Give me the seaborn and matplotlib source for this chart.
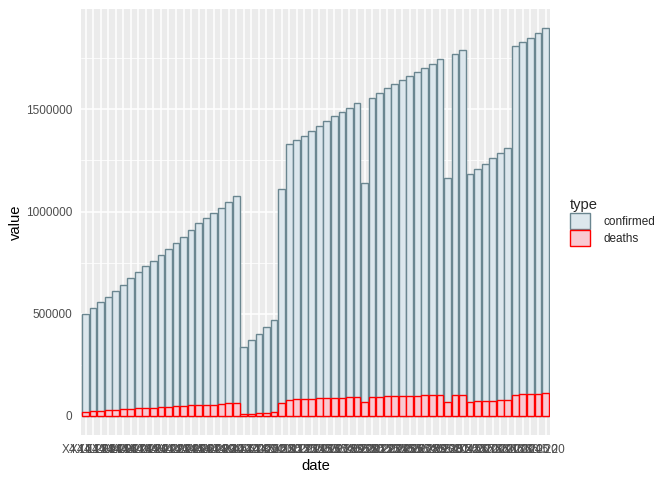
import matplotlib
matplotlib.use("Agg")
import matplotlib.pyplot as plt
from matplotlib.patches import Patch
import seaborn as sns
import pandas as pd

# dates as column names, sorted alphabetically like an R factor
dates = (["X4.10.20", "X4.11.20", "X4.12.20", "X4.13.20", "X4.14.20", "X4.15.20", "X4.16.20",
          "X4.17.20", "X4.18.20", "X4.19.20", "X4.20.20", "X4.21.20", "X4.22.20", "X4.23.20",
          "X4.24.20", "X4.25.20", "X4.26.20", "X4.27.20", "X4.28.20", "X4.29.20", "X4.30.20",
          "X4.5.20", "X4.6.20", "X4.7.20", "X4.8.20", "X4.9.20",
          "X5.1.20", "X5.10.20", "X5.11.20", "X5.12.20", "X5.13.20", "X5.14.20", "X5.15.20",
          "X5.16.20", "X5.17.20", "X5.18.20", "X5.19.20", "X5.2.20", "X5.20.20", "X5.21.20",
          "X5.22.20", "X5.23.20", "X5.24.20", "X5.25.20", "X5.26.20", "X5.27.20", "X5.28.20",
          "X5.29.20", "X5.3.20", "X5.30.20", "X5.31.20", "X5.4.20", "X5.5.20", "X5.6.20",
          "X5.7.20", "X5.8.20", "X5.9.20",
          "X6.1.20", "X6.2.20", "X6.3.20", "X6.4.20", "X6.5.20"])

confirmed = [500000, 529000, 558000, 584000, 612000, 641000, 675000, 704000, 734000, 758000,
             787000, 816000, 846000, 875000, 909000, 943000, 967000, 992000, 1016000, 1045000,
             1075000,
             339000, 373000, 403000, 437000, 471000,
             1109000, 1333000, 1352000, 1372000, 1396000, 1420000, 1445000, 1469000, 1489000,
             1508000, 1532000, 1138000, 1557000, 1581000, 1605000, 1625000, 1644000, 1664000,
             1683000, 1703000, 1722000, 1747000, 1162000, 1771000, 1791000, 1182000, 1206000,
             1235000, 1260000, 1289000, 1313000,
             1810000, 1830000, 1849000, 1873000, 1898000]

deaths = [21000, 23000, 25000, 27000, 30000, 33000, 35000, 37000, 39000, 41000,
          43000, 45000, 48000, 50000, 52000, 54000, 55000, 56000, 58000, 61000, 63000,
          10000, 11000, 13000, 15000, 17000,
          65000, 80000, 81000, 83000, 84000, 86000, 87000, 89000, 90000, 91000, 93000,
          67000, 94000, 95000, 96000, 98000, 98000, 99000, 100000, 101000, 102000, 103000,
          68000, 104000, 105000, 69000, 71000, 74000, 75000, 77000, 79000,
          105000, 107000, 108000, 109000, 110000]

types = ["confirmed", "deaths"]
fills = {"confirmed": "#DCE7ED", "deaths": "#F9C9D2"}
edges = {"confirmed": "#6A8690", "deaths": "#FF0000"}

df = pd.DataFrame({"date": dates * 2,
                   "value": confirmed + deaths,
                   "type": ["confirmed"] * len(dates) + ["deaths"] * len(dates)})

sns.set_theme(style="darkgrid")
plt.rcParams["font.family"] = ["Liberation Sans", "DejaVu Sans"]

fig = plt.figure(figsize=(6.72, 4.8), dpi=100)
ax = fig.add_axes([0.1205, 0.093, 0.698, 0.889])
ax.set_facecolor("#EBEBEB")

for t in types:
    sub = df[df["type"] == t]
    sns.barplot(data=sub, x="date", y="value", order=dates, color=fills[t],
                edgecolor=edges[t], linewidth=1.0, width=0.9, saturation=1,
                errorbar=None, ax=ax)

ymax = max(confirmed)
ax.set_ylim(-0.05 * ymax, 1.05 * ymax)
ax.set_xlim(-0.6, len(dates) - 0.4)

ax.set_yticks([0, 500000, 1000000, 1500000])
ax.set_yticklabels(["0", "500000", "1000000", "1500000"])
ax.set_yticks([250000, 750000, 1250000, 1750000], minor=True)
ax.grid(True, which="major", color="white", linewidth=1.1)
ax.grid(True, which="minor", axis="y", color="white", linewidth=0.55)
ax.set_axisbelow(True)
for s in ax.spines.values():
    s.set_visible(False)

ax.tick_params(axis="both", which="major", length=3.7, width=0.8, color="#333333",
               labelsize=8.5, labelcolor="#4D4D4D", pad=2.5)
ax.tick_params(axis="y", which="minor", length=0)
ax.tick_params(axis="x", which="minor", length=0)

ax.set_xlabel("date", fontsize=10.6, color="black", labelpad=2)
ax.set_ylabel("value", fontsize=10.6, color="black", labelpad=2)

handles = [Patch(facecolor=fills[t], edgecolor=edges[t], linewidth=1.0) for t in types]
leg = ax.legend(handles, types, title="type", loc="center left",
                bbox_to_anchor=(1.02, 0.5), frameon=False, fontsize=8.5,
                title_fontsize=10.6, handlelength=1.7, handleheight=1.7,
                handletextpad=1.1, labelspacing=0.1)
leg._legend_box.align = "left"

fig.savefig("out.png", dpi=100)
